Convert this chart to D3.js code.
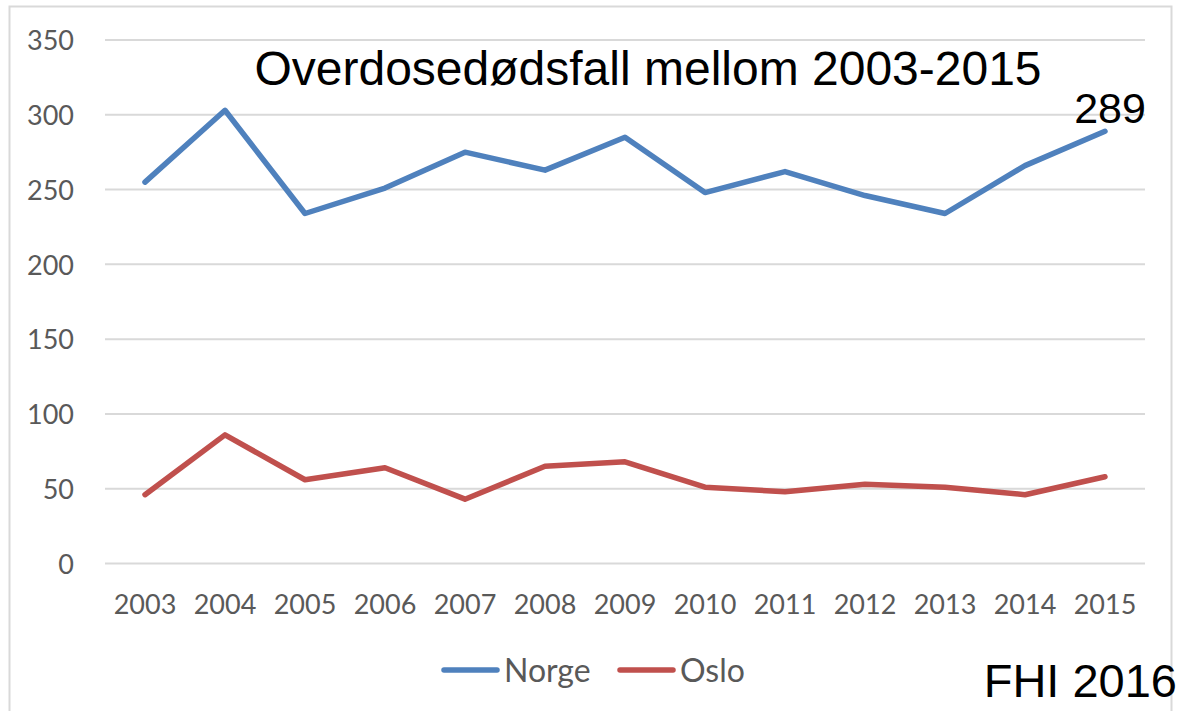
<!DOCTYPE html>
<html><head><meta charset="utf-8">
<script src="https://cdn.jsdelivr.net/npm/d3@7"></script>
<style>body{margin:0;background:#fff}svg{display:block}</style>
</head><body>
<script>
const years = ["2003","2004","2005","2006","2007","2008","2009","2010","2011","2012","2013","2014","2015"];
const norge = [255,303,234,251,275,263,285,248,262,246,234,266,289];
const oslo = [46,86,56,64,43,65,68,51,48,53,51,46,58];
const yTicks = [0,50,100,150,200,250,300,350];
const seriesNames = ["Norge","Oslo"];
const colors = ["#4F81BD","#C0504D"];
const title = "Overdosedødsfall mellom 2003-2015";
const source = "FHI 2016";

const W = 1177, H = 711;
const svg = d3.select("body").append("svg").attr("width", W).attr("height", H);
svg.append("rect").attr("x",9.5).attr("y",6.5).attr("width",1162).attr("height",720)
  .attr("fill","#fff").attr("stroke","#d9d9d9").attr("stroke-width",2);

const x = d3.scaleBand().domain(years).range([105,1145]).padding(0);
const y = d3.scaleLinear().domain([0,350]).range([563.5,40]);
const lab = "Lato, 'Open Sans', sans-serif";
const arial = "'Liberation Sans', Arial, sans-serif";

// gridlines
svg.append("g").selectAll("line").data(yTicks).join("line")
  .attr("x1",105).attr("x2",1145).attr("y1",d=>y(d)).attr("y2",d=>y(d))
  .attr("stroke","#d9d9d9").attr("stroke-width",2);

// y axis labels
const yAxis = d3.axisLeft(y).tickValues(yTicks).tickSize(0).tickPadding(0);
const gy = svg.append("g").attr("transform","translate(74,0)").call(yAxis);
gy.select(".domain").remove();
gy.selectAll("text").attr("font-family",lab).attr("font-size",27).attr("fill","#595959").attr("dy","0.36em");

// x axis labels
const xAxis = d3.axisBottom(x).tickSize(0).tickPadding(0);
const gx = svg.append("g").attr("transform","translate(0,595)").call(xAxis);
gx.select(".domain").remove();
gx.selectAll("text").attr("font-family",lab).attr("font-size",27).attr("fill","#595959").attr("dy","0.71em");

const line = d3.line().x((d,i)=>x(years[i])+x.bandwidth()/2).y(d=>y(d));
[norge, oslo].forEach((s,k)=>{
  svg.append("path").datum(s).attr("d",line).attr("fill","none")
    .attr("stroke",colors[k]).attr("stroke-width",5.5).attr("stroke-linejoin","round").attr("stroke-linecap","round");
});

// title
svg.append("text").attr("x",648).attr("y",85).attr("text-anchor","middle")
  .attr("font-family",arial).attr("font-size",48).attr("fill","#000").text(title);

// data label
svg.append("text").attr("x",x("2015")+x.bandwidth()/2+5).attr("y",y(norge[12])-8.5).attr("text-anchor","middle")
  .attr("font-family",arial).attr("font-size",43).attr("fill","#000").text(norge[12]);

// legend
const leg = [[444,504],[620,680]];
seriesNames.forEach((n,k)=>{
  svg.append("line").attr("x1",leg[k][0]).attr("x2",leg[k][0]+53).attr("y1",670).attr("y2",670)
    .attr("stroke",colors[k]).attr("stroke-width",5.5).attr("stroke-linecap","round");
  svg.append("text").attr("x",leg[k][1]).attr("y",670).attr("dy","0.36em")
    .attr("font-family",lab).attr("font-size",32).attr("fill","#595959").text(n);
});

// source
svg.append("text").attr("x",1177).attr("y",697).attr("text-anchor","end")
  .attr("font-family",arial).attr("font-size",47).attr("fill","#000").text(source);
</script>
</body></html>
